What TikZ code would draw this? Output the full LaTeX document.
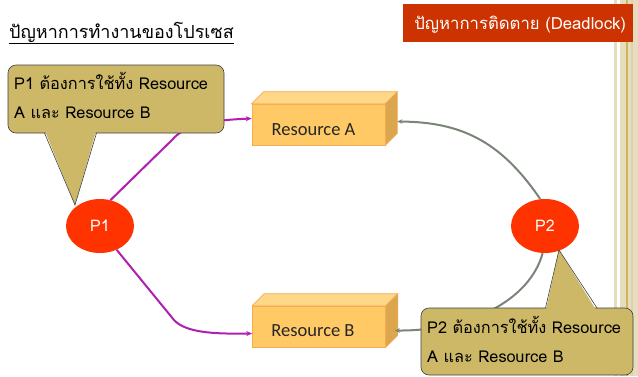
\documentclass[tikz,border=0pt]{standalone}
\usepackage{fontspec}
\newfontfamily\thaifont[Script=Thai]{Loma}
\setmainfont{Carlito}
\usetikzlibrary{shapes.geometric,arrows.meta,calc}
\definecolor{calloutfill}{HTML}{CCB867}
\definecolor{procred}{HTML}{FF3300}
\definecolor{headred}{HTML}{CC3300}
\definecolor{boxfront}{HTML}{FFC966}
\definecolor{boxtop}{HTML}{FFD789}
\definecolor{boxside}{HTML}{DBA64E}
\definecolor{boxline}{HTML}{F5AD4F}
\definecolor{pinkline}{HTML}{B020B0}
\definecolor{grayline}{HTML}{7A8578}
\definecolor{stripe}{HTML}{E6DDBF}
\definecolor{stripegold}{HTML}{D4B45A}
\definecolor{stripedark}{HTML}{DDD2AE}
\tikzset{
  proc/.style={ellipse, fill=procred, minimum width=68pt, minimum height=54pt, inner sep=0pt, text=white, font=\thaifont\fontsize{16}{18}\selectfont},
  resbox/.style={rectangle, fill=boxfront, draw=boxline, line width=0.6pt, minimum width=133pt, minimum height=41pt, inner sep=0pt},
  reslabel/.style={font=\fontsize{18.5}{20}\selectfont, text=black!85},
  boxtopface/.style={fill=boxtop, draw=boxline, line width=0.6pt},
  boxsideface/.style={fill=boxside, draw=boxline, line width=0.6pt},
  callout/.style={fill=calloutfill, draw=black!75, line width=0.6pt},
  callouttext/.style={anchor=north west, align=left, inner sep=0pt, font=\thaifont\fontsize{16.3}{29}\selectfont},
  pinkarrow/.style={draw=pinkline, line width=2pt, -{Stealth[length=6pt,width=5pt]}},
  grayarrow/.style={draw=grayline, line width=2pt, -{Stealth[length=5pt,width=4.5pt]}},
}
\begin{document}
\begin{tikzpicture}[x=1pt,y=-1pt]
\useasboundingbox (0,0) rectangle (638,376);
\fill[white] (0,0) rectangle (638,376);
% right stripes
\fill[stripe] (614,0) rectangle (617,376);
\fill[stripe] (620,0) rectangle (626,376);
\fill[stripegold] (626,0) rectangle (627.5,376);
\fill[stripe] (627.5,0) rectangle (631,376);
\fill[stripedark] (631,0) rectangle (633,376);
\fill[stripe] (633,0) rectangle (638,376);
% header bar
\node[fill=headred, minimum width=230pt, minimum height=38pt, anchor=north west, inner sep=0pt] (head) at (403,4) {};
\node[text=white, font=\thaifont\fontsize{16.7}{18}\selectfont] (headtext) at ($(head.center)+(2,1)$) {ปัญหาการติดตาย (Deadlock)};
% title
\node[anchor=west, inner sep=0pt, font=\thaifont\fontsize{18}{20}\selectfont] (title) at (9,33) {\underline{ปัญหาการทำงานของโปรเซส}};
% resource boxes
\node[resbox] (A) at (318.5,124.5) {};
\draw[boxtopface] (A.north west) -- ++(12,-12) -- ($(A.north east)+(12,-12)$) -- (A.north east) -- cycle;
\draw[boxsideface] (A.north east) -- ++(12,-12) -- ($(A.south east)+(12,-12)$) -- (A.south east) -- cycle;
\node[reslabel] (Alabel) at ($(A.center)+(-5,5)$) {Resource A};
\node[resbox] (B) at (319,326.5) {};
\draw[boxtopface] (B.north west) -- ++(12,-12) -- ($(B.north east)+(12,-12)$) -- (B.north east) -- cycle;
\draw[boxsideface] (B.north east) -- ++(12,-12) -- ($(B.south east)+(12,-12)$) -- (B.south east) -- cycle;
\node[reslabel] (Blabel) at ($(B.center)+(-6,4)$) {Resource B};
% processes
\node[proc] (P1) at (100,226) {P1};
\node[proc] (P2) at (545,226) {P2};
% pink connectors
\draw[pinkarrow] (P1.68) -- (172,140) .. controls (185,124) and (215,120) .. ($(A.west)+(0,-6)$);
\draw[pinkarrow] (P1.-55) -- (174,320) .. controls (186,333) and (215,334) .. ($(B.west)+(0,7)$);
% gray connectors
\draw[grayarrow] (P2.100) .. controls (500,140) and (460,122) .. ($(A.east)+(12,-3)$);
\draw[grayarrow] (P2.-95) .. controls (530,300) and (470,331) .. ($(B.east)+(9,4)$);
% callout 1
\draw[callout, rounded corners=8pt] (8,65) rectangle (224,133);
\fill[calloutfill] (45,131) -- (75,205) -- (96,131) -- cycle;
\draw[black!75, line width=0.6pt] (44.5,133) -- (75,205) -- (96.5,133);
\node[callouttext] (c1) at (14,72) {P1 ต้องการใช้ทั้ง Resource\\A และ Resource B};
% callout 2
\draw[callout, rounded corners=8pt] (421,308) rectangle (633,375);
\fill[calloutfill] (546,310) -- (559,250) -- (596,310) -- cycle;
\draw[black!75, line width=0.6pt] (545.5,308) -- (559,250) -- (597,308);
\node[callouttext] (c2) at (427,316) {P2 ต้องการใช้ทั้ง Resource\\A และ Resource B};
\end{tikzpicture}
\end{document}
